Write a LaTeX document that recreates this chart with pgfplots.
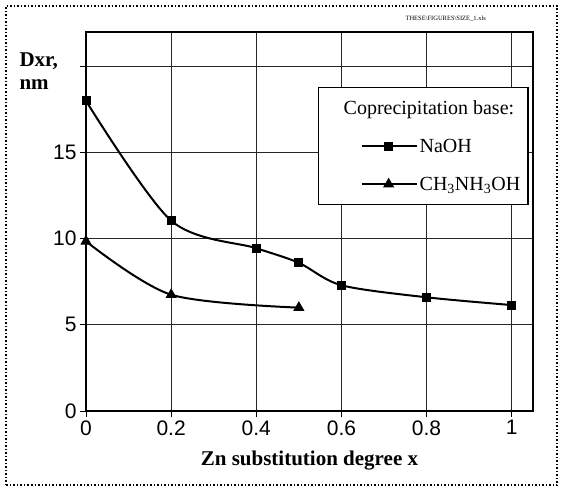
\documentclass[border=0pt]{standalone}
\usepackage{fontspec}
\setmainfont{Liberation Serif}
\newfontfamily\arial{Liberation Sans}
\usepackage{pgfplots}
\pgfplotsset{compat=1.18}
\begin{document}
\begin{tikzpicture}[x=1pt,y=1pt]
\path[use as bounding box] (0,0) rectangle (561,487);
\draw[line width=1.5pt, dotted] (6,2) rectangle (557,481);
\node[anchor=west, font=\fontsize{6.5}{7}\selectfont] at (402,468) {THESE\textbackslash FIGURES\textbackslash SIZE\_1.xls};
\node[anchor=base west, font=\bfseries\fontsize{21}{23}\selectfont] at (16,420) {Dxr,};
\node[anchor=base west, font=\bfseries\fontsize{21}{23}\selectfont] at (16,397) {nm};
\begin{axis}[
  at={(86pt,76pt)}, anchor=south west,
  scale only axis, width=447pt, height=379pt,
  xmin=0, xmax=1.05, ymin=0, ymax=22,
  xtick={0,0.2,0.4,0.6,0.8,1}, xticklabels={0,0.2,0.4,0.6,0.8,1},
  ytick={0,5,10,15,20}, yticklabels={0,5,10,15,{}},
  tick pos=left, tick align=outside, major tick length=6pt,
  grid=major, grid style={line width=0.8pt,black!85},
  axis line style={line width=1.6pt},
  tick style={line width=0.8pt, black},
  ticklabel style={font=\arial\fontsize{21}{24}\selectfont},
  /pgf/number format/assume math mode=true,
  xlabel={Zn substitution degree x},
  xlabel style={at={(axis description cs:0.5,0)}, anchor=base, yshift=-54pt, font=\bfseries\fontsize{21}{24}\selectfont},
  clip=false,
  legend style={at={(0.991,0.855)}, anchor=north east, draw=black, line width=1.5pt,
    font=\fontsize{20}{22}\selectfont, row sep=19pt, inner xsep=6pt, inner ysep=11pt},
  legend cell align=left,
  legend image code/.code={\path (-36pt,0pt); \draw[mark repeat=2,mark phase=2,#1] plot coordinates {(0pt,0pt) (27pt,0pt) (55pt,0pt)};},
]
\addlegendimage{empty legend}
\addlegendentry{\hspace*{-76pt}Coprecipitation base:}
\addplot[black, line width=2pt, smooth, mark=square*, mark size=4pt, mark options={line width=1pt}]
  coordinates {(0,18.0) (0.2,11.05) (0.4,9.45) (0.5,8.6) (0.6,7.3) (0.8,6.6) (1,6.15)};
\addlegendentry{NaOH}
\addplot[black, line width=2pt, smooth, mark=triangle*, mark size=5.5pt, mark options={line width=1pt}]
  coordinates {(0,9.85) (0.2,6.75) (0.5,6.0)};
\addlegendentry{CH\textsubscript{3}NH\textsubscript{3}OH}
\end{axis}
\end{tikzpicture}
\end{document}
